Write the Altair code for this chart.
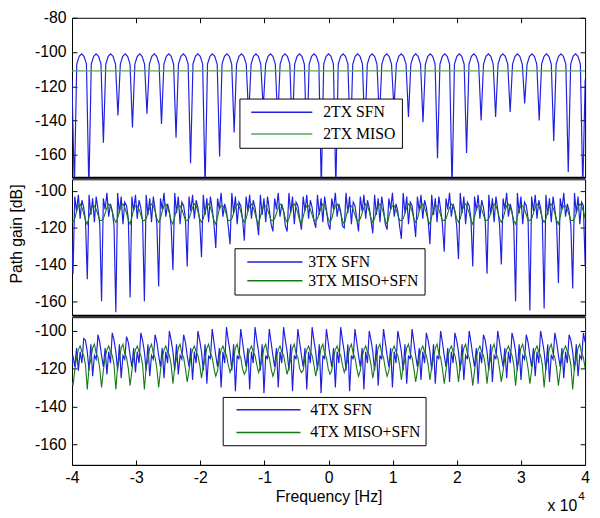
import altair as alt
import numpy as np
import pandas as pd

# ---------------- data ----------------
# top panel: 2TX, frequency grid start / step [Hz]
TOP_F0, TOP_STEP = -40015.0, 377.5
top_sfn = [
    -116,
    -180, -107, -102.5, -101, -102.5, -107,
    -180, -107, -102.5, -101, -102.5, -107,
    -153, -107, -102.5, -101, -102.5, -107,
    -137, -107, -102.5, -101, -102.5, -107,
    -144, -107, -102.5, -101, -102.5, -107,
    -136, -107, -102.5, -101, -102.5, -107,
    -142, -107, -102.5, -101, -102.5, -107,
    -150, -107, -102.5, -101, -102.5, -107,
    -165, -107, -102.5, -101, -102.5, -107,
    -180, -107, -102.5, -101, -102.5, -107,
    -161, -107, -102.5, -101, -102.5, -107,
    -147, -107, -102.5, -101, -102.5, -107,
    -138, -107, -102.5, -101, -102.5, -107,
    -133, -107, -102.5, -101, -102.5, -107,
    -140, -107, -102.5, -101, -102.5, -107,
    -148, -107, -102.5, -101, -102.5, -107,
    -155, -107, -102.5, -101, -102.5, -107,
    -180, -107, -102.5, -101, -102.5, -107,
    -180, -107, -102.5, -101, -102.5, -107,
    -155, -107, -102.5, -101, -102.5, -107,
    -148, -107, -102.5, -101, -102.5, -107,
    -140, -107, -102.5, -101, -102.5, -107,
    -133, -107, -102.5, -101, -102.5, -107,
    -138, -107, -102.5, -101, -102.5, -107,
    -141, -107, -102.5, -101, -102.5, -107,
    -162, -107, -102.5, -101, -102.5, -107,
    -180, -107, -102.5, -101, -102.5, -107,
    -159, -107, -102.5, -101, -102.5, -107,
    -140, -107, -102.5, -101, -102.5, -107,
    -138, -107, -102.5, -101, -102.5, -107,
    -135, -107, -102.5, -101, -102.5, -107,
    -130, -107, -102.5, -101, -102.5, -107,
    -140, -107, -102.5, -101, -102.5, -107,
    -152, -107, -102.5, -101, -102.5, -107,
    -170, -107, -102.5, -101, -102.5, -107,
    -180, -116,
]
top_miso_f = [-40000, 40000]
top_miso = [-111, -111]

# middle / bottom panels: frequency grid start / step [Hz]
MB_F0, MB_STEP = -40124.25, 278.25
mid_sfn = [
    -118,
    -145, -103, -111, -102, -115, -105, -109, -116,
    -148, -102, -113, -104, -117, -103, -110, -118,
    -160, -104, -110, -101, -114, -107, -111, -119,
    -166, -101, -112, -103, -118, -106, -108, -115,
    -158, -103, -111, -102, -115, -105, -109, -116,
    -160, -102, -113, -104, -117, -103, -110, -118,
    -152, -104, -110, -101, -114, -107, -111, -119,
    -143, -101, -112, -103, -118, -106, -108, -115,
    -141, -103, -111, -102, -115, -105, -109, -116,
    -136, -102, -113, -104, -117, -103, -110, -118,
    -131, -104, -110, -101, -114, -107, -111, -119,
    -129, -101, -112, -103, -118, -106, -108, -115,
    -127, -103, -111, -102, -115, -105, -109, -116,
    -124, -102, -113, -104, -117, -103, -110, -118,
    -122, -104, -110, -101, -114, -107, -111, -119,
    -122, -101, -112, -103, -118, -106, -108, -115,
    -121, -103, -111, -102, -115, -105, -109, -116,
    -120, -102, -113, -104, -117, -103, -110, -118,
    -121, -104, -110, -101, -114, -107, -111, -119,
    -120, -101, -112, -103, -118, -106, -108, -115,
    -122, -103, -111, -102, -115, -105, -109, -116,
    -123, -102, -113, -104, -117, -103, -110, -118,
    -121, -104, -110, -101, -114, -107, -111, -119,
    -126, -101, -112, -103, -118, -106, -108, -115,
    -125, -103, -111, -102, -115, -105, -109, -116,
    -129, -102, -113, -104, -117, -103, -110, -118,
    -133, -104, -110, -101, -114, -107, -111, -119,
    -137, -101, -112, -103, -118, -106, -108, -115,
    -141, -103, -111, -102, -115, -105, -109, -116,
    -145, -102, -113, -104, -117, -103, -110, -118,
    -140, -104, -110, -101, -114, -107, -111, -119,
    -160, -101, -112, -103, -118, -106, -108, -115,
    -165, -103, -111, -102, -115, -105, -109, -116,
    -164, -102, -113, -104, -117, -103, -110, -118,
    -150, -104, -110, -101, -114, -107, -111, -119,
    -153, -101, -112, -103, -118, -106, -108, -141,
]
mid_miso = [
    -116,
    -117, -115, -111, -108, -107, -109, -112, -116,
    -118, -114, -110, -108, -108, -110, -113, -116,
    -116, -115, -112, -109, -107, -108, -111, -115,
    -117, -115, -111, -108, -107, -109, -112, -116,
    -118, -114, -110, -108, -108, -110, -113, -116,
    -116, -115, -112, -109, -107, -108, -111, -115,
    -117, -115, -111, -108, -107, -109, -112, -116,
    -118, -114, -110, -108, -108, -110, -113, -116,
    -116, -115, -112, -109, -107, -108, -111, -115,
    -117, -115, -111, -108, -107, -109, -112, -116,
    -118, -114, -110, -108, -108, -110, -113, -116,
    -116, -115, -112, -109, -107, -108, -111, -115,
    -117, -115, -111, -108, -107, -109, -112, -116,
    -118, -114, -110, -108, -108, -110, -113, -116,
    -116, -115, -112, -109, -107, -108, -111, -115,
    -117, -115, -111, -108, -107, -109, -112, -116,
    -118, -114, -110, -108, -108, -110, -113, -116,
    -116, -115, -112, -109, -107, -108, -111, -115,
    -117, -115, -111, -108, -107, -109, -112, -116,
    -118, -114, -110, -108, -108, -110, -113, -116,
    -116, -115, -112, -109, -107, -108, -111, -115,
    -117, -115, -111, -108, -107, -109, -112, -116,
    -118, -114, -110, -108, -108, -110, -113, -116,
    -116, -115, -112, -109, -107, -108, -111, -115,
    -117, -115, -111, -108, -107, -109, -112, -116,
    -118, -114, -110, -108, -108, -110, -113, -116,
    -116, -115, -112, -109, -107, -108, -111, -115,
    -117, -115, -111, -108, -107, -109, -112, -116,
    -118, -114, -110, -108, -108, -110, -113, -116,
    -116, -115, -112, -109, -107, -108, -111, -115,
    -117, -115, -111, -108, -107, -109, -112, -116,
    -118, -114, -110, -108, -108, -110, -113, -116,
    -116, -115, -112, -109, -107, -108, -111, -115,
    -117, -115, -111, -108, -107, -109, -112, -116,
    -118, -114, -110, -108, -108, -110, -113, -116,
    -116, -115, -112, -109, -107, -108, -111, -115,
]
bot_sfn = [
    -120,
    -113, -119, -109, -121, -111, -117, -104, -105,
    -111, -121, -107, -124, -113, -115, -102, -106,
    -113, -119, -109, -123, -111, -117, -101, -105,
    -111, -121, -107, -125, -113, -115, -103, -106,
    -113, -119, -109, -122, -111, -117, -101, -105,
    -111, -121, -107, -124, -113, -115, -102, -106,
    -113, -119, -109, -125, -111, -117, -100, -105,
    -111, -121, -107, -123, -113, -115, -102, -106,
    -113, -119, -109, -126, -111, -117, -100, -105,
    -111, -121, -107, -128, -113, -115, -99, -106,
    -113, -119, -109, -130, -111, -117, -98, -105,
    -111, -121, -107, -132, -113, -115, -99, -106,
    -113, -119, -109, -131, -111, -117, -98, -105,
    -111, -121, -107, -133, -113, -115, -99, -106,
    -113, -119, -109, -130, -111, -117, -98, -105,
    -111, -121, -107, -132, -113, -115, -99, -106,
    -113, -119, -109, -131, -111, -117, -98, -105,
    -111, -121, -107, -133, -113, -115, -99, -106,
    -113, -119, -109, -130, -111, -117, -98, -105,
    -111, -121, -107, -132, -113, -115, -99, -106,
    -113, -119, -109, -131, -111, -117, -100, -105,
    -111, -121, -107, -129, -113, -115, -99, -106,
    -113, -119, -109, -130, -111, -117, -100, -105,
    -111, -121, -107, -128, -113, -115, -99, -106,
    -113, -119, -109, -126, -111, -117, -101, -105,
    -111, -121, -107, -128, -113, -115, -100, -106,
    -113, -119, -109, -127, -111, -117, -101, -105,
    -111, -121, -107, -126, -113, -115, -100, -106,
    -113, -119, -109, -128, -111, -117, -102, -105,
    -111, -121, -107, -127, -113, -115, -100, -106,
    -113, -119, -109, -125, -111, -117, -101, -105,
    -111, -121, -107, -126, -113, -115, -102, -106,
    -113, -119, -109, -124, -111, -117, -100, -105,
    -111, -121, -107, -127, -113, -115, -101, -106,
    -113, -119, -109, -125, -111, -117, -102, -105,
    -111, -121, -107, -124, -113, -115, -101, -106,
]
bot_miso = [
    -126,
    -129, -121, -114, -110, -108, -111, -113, -118,
    -131, -119, -115, -109, -107, -112, -114, -120,
    -130, -121, -114, -110, -108, -111, -113, -118,
    -131, -119, -115, -109, -107, -112, -114, -120,
    -129, -121, -114, -110, -108, -111, -113, -118,
    -131, -119, -115, -109, -107, -112, -114, -120,
    -130, -121, -114, -110, -108, -111, -113, -118,
    -128, -119, -115, -109, -107, -112, -114, -120,
    -127, -121, -114, -110, -108, -111, -113, -118,
    -125, -119, -115, -109, -107, -112, -114, -120,
    -124, -121, -114, -110, -108, -111, -113, -118,
    -122, -119, -115, -109, -107, -112, -114, -120,
    -123, -121, -114, -110, -108, -111, -113, -118,
    -122, -119, -115, -109, -107, -112, -114, -120,
    -124, -121, -114, -110, -108, -111, -113, -118,
    -123, -119, -115, -109, -107, -112, -114, -120,
    -122, -121, -114, -110, -108, -111, -113, -118,
    -124, -119, -115, -109, -107, -112, -114, -120,
    -123, -121, -114, -110, -108, -111, -113, -118,
    -122, -119, -115, -109, -107, -112, -114, -120,
    -124, -121, -114, -110, -108, -111, -113, -118,
    -125, -119, -115, -109, -107, -112, -114, -120,
    -124, -121, -114, -110, -108, -111, -113, -118,
    -126, -119, -115, -109, -107, -112, -114, -120,
    -127, -121, -114, -110, -108, -111, -113, -118,
    -126, -119, -115, -109, -107, -112, -114, -120,
    -128, -121, -114, -110, -108, -111, -113, -118,
    -127, -119, -115, -109, -107, -112, -114, -120,
    -129, -121, -114, -110, -108, -111, -113, -118,
    -128, -119, -115, -109, -107, -112, -114, -120,
    -127, -121, -114, -110, -108, -111, -113, -118,
    -129, -119, -115, -109, -107, -112, -114, -120,
    -128, -121, -114, -110, -108, -111, -113, -118,
    -130, -119, -115, -109, -107, -112, -114, -120,
    -129, -121, -114, -110, -108, -111, -113, -118,
    -131, -119, -115, -109, -107, -112, -114, -120,
]

top_names = ["2TX SFN", "2TX MISO"]
mid_names = ["3TX SFN", "3TX MISO+SFN"]
bot_names = ["4TX SFN", "4TX MISO+SFN"]
x_tick_values = [-40000, -30000, -20000, -10000, 0, 10000, 20000, 30000, 40000]
x_inner_ticks = [-30000, -20000, -10000, 0, 10000, 20000, 30000]
top_y_ticks = [-80, -100, -120, -140, -160]
mb_y_ticks = [-100, -120, -140, -160]

BLUE = "#2020e0"
GREEN_LIGHT = "#55a855"
GREEN = "#137a13"

W = 521
H_TOP, H_MID, H_BOT = 162, 138, 150


def grid_frame(vals, f0, step, name):
    return pd.DataFrame({"f": f0 + step * np.arange(len(vals)), "g": vals, "s": name})


XS = alt.Scale(domain=[-40000, 40000], nice=False, zero=False)
HYPHEN_LABEL = "'' + datum.value"


def panel(sfn, miso, names, colors, ydom, yvals, h, leg, x_main, x_in,
          y_title_kw, extras=()):
    ys = alt.Scale(domain=ydom, nice=False, zero=False)
    cs = alt.Scale(domain=names, range=colors)
    col = alt.Color("s:N", scale=cs, legend=leg)
    l1 = alt.Chart(sfn).mark_line(clip=True, strokeWidth=1.2).encode(
        x=alt.X("f:Q", scale=XS, axis=x_main),
        y=alt.Y("g:Q", scale=ys, axis=alt.Axis(orient="left", values=yvals, ticks=False,
                                                domain=False, labelPadding=6,
                                                labelExpr=HYPHEN_LABEL, **y_title_kw)),
        color=col,
    )
    l2 = alt.Chart(miso).mark_line(clip=True, strokeWidth=1.1).encode(
        x=alt.X("f:Q", scale=XS, axis=x_in),
        y=alt.Y("g:Q", scale=ys, axis=alt.Axis(orient="right", offset=-W, values=yvals,
                                                labels=False, domain=False, tickSize=5,
                                                title=None)),
        color=col,
    )
    l3 = alt.Chart(miso).mark_point(opacity=0, clip=True).encode(
        x=alt.X("f:Q", scale=XS, axis=None),
        y=alt.Y("g:Q", scale=ys, axis=alt.Axis(orient="left", offset=-W, values=yvals,
                                                labels=False, domain=False, tickSize=5,
                                                title=None)),
    )
    return alt.layer(l1, l2, l3, *extras).resolve_axis(
        x="independent", y="independent").properties(width=W, height=h)


def legend(x, y, pad, rowpad, symoff, symlen, laboff, spaces):
    return alt.Legend(
        title=None, orient="none", legendX=x, legendY=y, direction="vertical",
        padding=pad, rowPadding=rowpad, symbolOffset=symoff, symbolType="stroke",
        symbolSize=symlen * symlen, symbolStrokeWidth=1.5, clipHeight=16,
        labelOffset=laboff, labelFont="Liberation Serif", labelFontSize=16,
        labelColor="black", fillColor="white", strokeColor="black",
        labelExpr="datum.label + '" + "\u00a0" * spaces + "'",
    )


edge_axis = alt.Axis(orient="bottom", labels=False, ticks=False, domain=True,
                     domainWidth=2, domainColor="black", title=None)

# top
top_y_dom = [-173.2, -80]
top = panel(
    grid_frame(top_sfn, TOP_F0, TOP_STEP, top_names[0]),
    pd.DataFrame({"f": top_miso_f, "g": top_miso, "s": top_names[1]}),
    top_names, [BLUE, GREEN_LIGHT], top_y_dom, top_y_ticks, H_TOP,
    legend(170, 82, 6, 6, 5, 62, 10, 3),
    edge_axis,
    alt.Axis(orient="bottom", offset=-H_TOP, values=x_inner_ticks, labels=False,
             domain=False, tickSize=5, title=None),
    dict(title=None),
)

# middle
mid_y_dom = [-167.6, -93.6]
mid = panel(
    grid_frame(mid_sfn, MB_F0, MB_STEP, mid_names[0]),
    grid_frame(mid_miso, MB_F0, MB_STEP, mid_names[1]),
    mid_names, [BLUE, GREEN], mid_y_dom, mb_y_ticks, H_MID,
    legend(165, 70, 6, 3, 6, 56, 5, 1),
    edge_axis,
    None,
    dict(title="Path gain [dB]", titleX=-48, titleY=55, titleAngle=-90,
         titleAlign="center", titleBaseline="bottom"),
)

# bottom
bot_y_dom = [-171, -92.7]
corner = pd.DataFrame({"f": [40000], "g": [bot_y_dom[0]]})
exp_base = alt.Chart(corner).mark_text(
    text="x 10", align="right", baseline="middle", dx=-8, dy=42,
    font="Liberation Sans", fontSize=16, color="black").encode(
    x=alt.X("f:Q", scale=XS, axis=None), y=alt.Y("g:Q", axis=None))
exp_pow = alt.Chart(corner).mark_text(
    text="4", align="left", baseline="middle", dx=-7, dy=32,
    font="Liberation Sans", fontSize=12, color="black").encode(
    x=alt.X("f:Q", scale=XS, axis=None), y=alt.Y("g:Q", axis=None))
bot = panel(
    grid_frame(bot_sfn, MB_F0, MB_STEP, bot_names[0]),
    grid_frame(bot_miso, MB_F0, MB_STEP, bot_names[1]),
    bot_names, [BLUE, GREEN], bot_y_dom, mb_y_ticks, H_BOT,
    legend(153, 81, 5, 7, 8, 65, 9, 5),
    alt.Axis(orient="bottom", values=x_tick_values, labelExpr="'' + (datum.value / 10000)",
             ticks=False, domain=True, domainColor="black", labelPadding=5,
             titlePadding=3, title="Frequency [Hz]", labelFlush=False),
    alt.Axis(orient="top", offset=-H_BOT, values=x_inner_ticks, labels=False,
             domain=False, tickSize=5, title=None),
    dict(title=None),
    extras=(exp_base, exp_pow),
)

chart = alt.vconcat(top, mid, bot, spacing=0).resolve_scale(
    color="independent"
).properties(
    padding={"left": 0, "top": -3, "right": 2, "bottom": 2},
    background="white",
).configure_view(
    stroke="black", strokeWidth=1,
).configure_axis(
    grid=False, labelFont="Liberation Sans", labelFontSize=16, labelColor="black",
    titleFont="Liberation Sans", titleFontSize=16, titleFontWeight="normal",
    titleColor="black", tickColor="black", domainColor="black",
)

chart.save("out.html", embed_options={"renderer": "svg", "actions": False})
